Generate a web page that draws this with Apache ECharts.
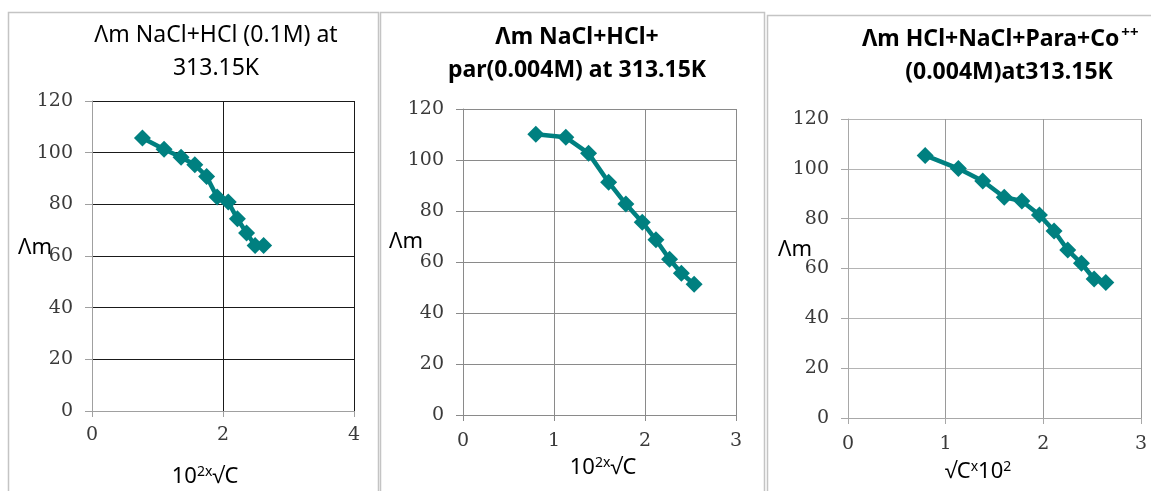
<!DOCTYPE html>
<html>
<head>
<meta charset="utf-8">
<script src="https://cdn.jsdelivr.net/npm/echarts@6/dist/echarts.min.js"></script>
<style>
  html, body { margin: 0; padding: 0; background: #fff; }
  #chart { width: 1151px; height: 491px; }
</style>
</head>
<body>
<div id="chart"></div>
<script>
// Molar conductivity Λm vs 10²·√C at 313.15 K for three solution systems
const xNaClHCl = [0.77, 1.10, 1.36, 1.57, 1.75, 1.91, 2.08, 2.22, 2.36, 2.49, 2.62];
const yNaClHCl = [105.7, 101.3, 98.2, 95.3, 90.8, 82.8, 80.9, 74.4, 68.9, 64.1, 64.1];

const xPara = [0.80, 1.13, 1.38, 1.60, 1.79, 1.97, 2.12, 2.27, 2.40, 2.54];
const yPara = [110.1, 108.9, 102.6, 91.3, 82.7, 75.6, 68.7, 61.1, 55.6, 51.3];

const xCo = [0.79, 1.13, 1.38, 1.60, 1.78, 1.96, 2.11, 2.25, 2.39, 2.52, 2.64];
const yCo = [105.4, 100.1, 95.1, 88.6, 87.1, 81.5, 75.1, 67.4, 62.1, 55.8, 54.4];

const yTicks = [0, 20, 40, 60, 80, 100, 120];
const xTicksWide = [0, 2, 4];
const xTicksNarrow = [0, 1, 2, 3];

const TEAL = '#008080';
const SANS = 'Noto Sans, Open Sans, Arial, sans-serif';
const SERIF = 'DejaVu Serif';

function pairs(xs, ys) { return xs.map((x, i) => [x, ys[i]]); }

function tickLabel(margin) {
  return {
    show: true,
    margin: margin,
    color: '#3a3a3a',
    fontFamily: SERIF,
    fontSize: 19,
    fontWeight: 'normal'
  };
}

function makeX(idx, ticks, lineColor, gridColor, margin) {
  const step = ticks[1] - ticks[0];
  return {
    gridIndex: idx, type: 'value',
    min: ticks[0], max: ticks[ticks.length - 1], interval: step,
    axisLine: { show: true, onZero: false, lineStyle: { color: lineColor, width: 1 } },
    axisTick: { show: true, length: 6, lineStyle: { color: lineColor } },
    axisLabel: tickLabel(margin),
    splitLine: { show: true, lineStyle: { color: gridColor, width: 1 } }
  };
}
function makeY(idx, lineColor, gridColor) {
  return {
    gridIndex: idx, type: 'value',
    min: yTicks[0], max: yTicks[yTicks.length - 1], interval: yTicks[1] - yTicks[0],
    axisLine: { show: true, onZero: false, lineStyle: { color: lineColor, width: 1 } },
    axisTick: { show: true, length: 7, lineStyle: { color: lineColor } },
    axisLabel: tickLabel(19),
    splitLine: { show: true, lineStyle: { color: gridColor, width: 1 } }
  };
}
function makeSeries(idx, data) {
  return {
    type: 'line', xAxisIndex: idx, yAxisIndex: idx, data: data,
    symbol: 'diamond', symbolSize: 17, showSymbol: true,
    lineStyle: { color: TEAL, width: 4.5 },
    itemStyle: { color: TEAL },
    animation: false, z: 5
  };
}

function text(x, y, rich, str, align) {
  return {
    type: 'text', x: x, y: y, z: 10,
    style: {
      text: str, align: align || 'center', verticalAlign: 'middle',
      fill: '#000', rich: rich
    }
  };
}

const titleRich = (w) => ({
  t: { fontFamily: SANS, fontSize: 23, fontWeight: w, fill: '#000', lineHeight: 33 },
  sup: { fontFamily: SANS, fontSize: 15, fontWeight: w, fill: '#000', lineHeight: 33, padding: [0, 0, 12, 2] }
});
const nameRich = {
  n: { fontFamily: SANS, fontSize: 22, fill: '#000' },
  s: { fontFamily: SANS, fontSize: 14, fill: '#000', padding: [0, 0, 10, 0] }
};

const chart = echarts.init(document.getElementById('chart'), null, { renderer: 'canvas' });

chart.setOption({
  backgroundColor: '#fff',
  animation: false,
  grid: [
    { left: 92, top: 101, width: 262, height: 310 },
    { left: 463, top: 109, width: 273, height: 306 },
    { left: 848, top: 119, width: 293, height: 299 }
  ],
  xAxis: [
    makeX(0, xTicksWide, '#a0a0a0', '#1a1a1a', 15),
    makeX(1, xTicksNarrow, '#8a8a8a', '#8a8a8a', 17),
    makeX(2, xTicksNarrow, '#a8a8a8', '#9a9a9a', 17)
  ],
  yAxis: [
    makeY(0, '#a0a0a0', '#1a1a1a'),
    makeY(1, '#8a8a8a', '#8a8a8a'),
    makeY(2, '#a8a8a8', '#b4b4b4')
  ],
  series: [
    makeSeries(0, pairs(xNaClHCl, yNaClHCl)),
    makeSeries(1, pairs(xPara, yPara)),
    makeSeries(2, pairs(xCo, yCo))
  ],
  graphic: [
    // panel frames
    { type: 'rect', shape: { x: 8.5, y: 12.5, width: 370, height: 500 }, style: { fill: null, stroke: '#c4c4c4', lineWidth: 1.5 }, z: 0 },
    { type: 'rect', shape: { x: 380.5, y: 12.5, width: 384, height: 500 }, style: { fill: null, stroke: '#c4c4c4', lineWidth: 1.5 }, z: 0 },
    { type: 'rect', shape: { x: 767.5, y: 15.5, width: 400, height: 500 }, style: { fill: null, stroke: '#c4c4c4', lineWidth: 1.5 }, z: 0 },

    // titles
    text(216, 52, titleRich('normal'), '{t|Λm NaCl+HCl (0.1M) at}\n{t|313.15K}'),
    text(577, 54, titleRich('bold'), '{t|Λm NaCl+HCl+}\n{t|par(0.004M) at 313.15K}'),
    text(862, 39, titleRich('bold'), '{t|Λm HCl+NaCl+Para+Co}{sup|++}', 'left'),
    text(1009, 72, titleRich('bold'), '{t|(0.004M)at313.15K}'),

    // y axis names
    text(35, 248, nameRich, '{n|Λm}'),
    text(406, 242, nameRich, '{n|Λm}'),
    text(795, 250, nameRich, '{n|Λm}'),

    // x axis names
    text(205, 477, nameRich, '{n|10}{s|2x}{n|√C}'),
    text(603, 468, nameRich, '{n|10}{s|2x}{n|√C}'),
    text(978, 472, nameRich, '{n|√C}{s|x}{n|10}{s|2}')
  ]
});
</script>
</body>
</html>
